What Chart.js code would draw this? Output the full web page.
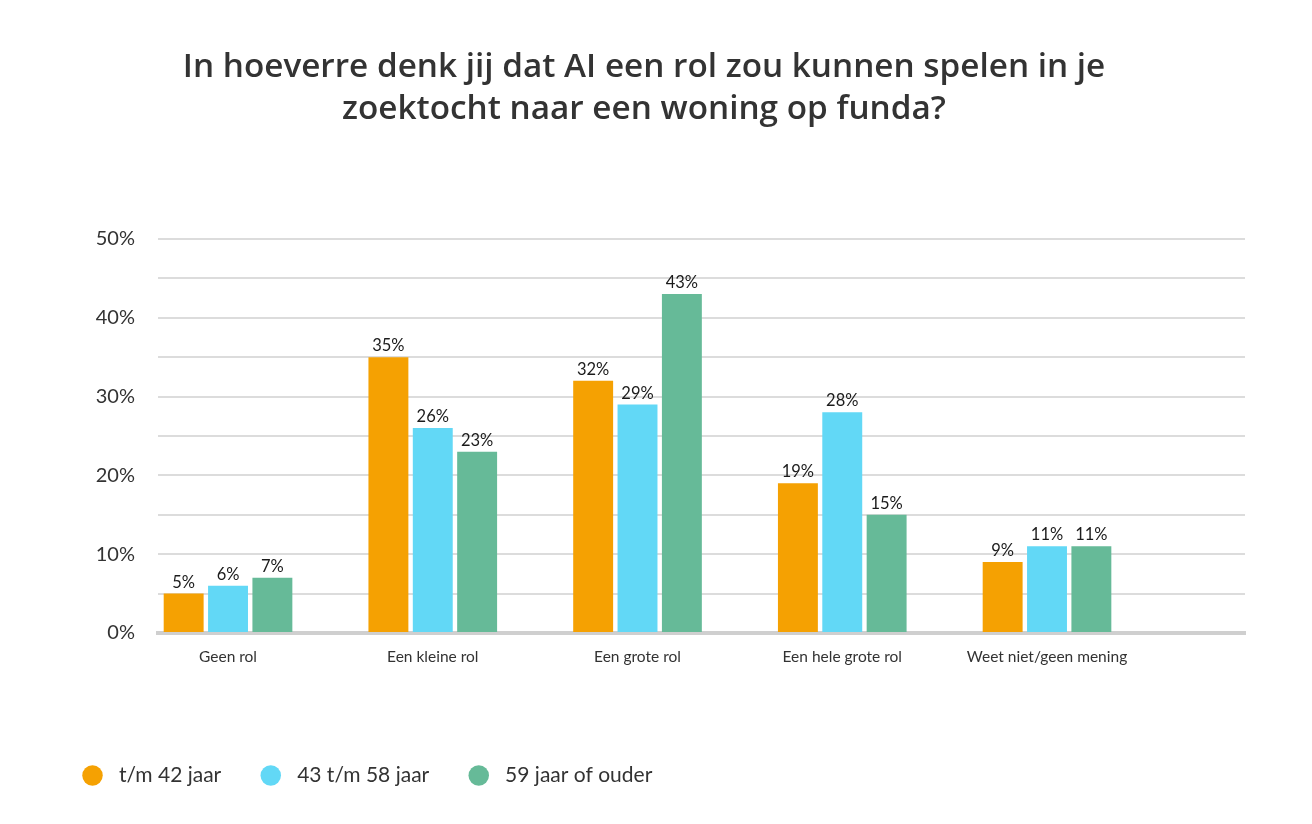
<!DOCTYPE html>
<html>
<head>
<meta charset="utf-8">
<script src="https://cdn.jsdelivr.net/npm/chart.js@4.4.0/dist/chart.umd.min.js"></script>
<style>
  html, body { margin: 0; padding: 0; background: #fff; }
  .wrap { width: 1312px; height: 824px; }
</style>
</head>
<body>
<div class="wrap"><canvas class="js-chart"></canvas></div>
<script>
const categories = ['Geen rol', 'Een kleine rol', 'Een grote rol', 'Een hele grote rol', 'Weet niet/geen mening'];
const seriesNames = ['t/m 42 jaar', '43 t/m 58 jaar', '59 jaar of ouder'];
const upTo42 = [5, 35, 32, 19, 9];
const from43to58 = [6, 26, 29, 28, 11];
const from59 = [7, 23, 43, 15, 11];
const yTickLabels = ['0%', '10%', '20%', '30%', '40%', '50%'];

const ctx = document.querySelector('.js-chart').getContext('2d');
Chart.defaults.font.family = 'Lato';
Chart.defaults.color = '#333333';

// category index -> {x, y} so the x axis can be linear (custom side margins)
const toPoints = values => values.map((v, i) => ({ x: i, y: v }));

const valueLabels = {
  id: 'valueLabels',
  afterDatasetsDraw(chart) {
    const c = chart.ctx;
    c.save();
    c.font = '16.5px Lato';
    c.fillStyle = '#1b1b1b';
    c.textAlign = 'center';
    c.textBaseline = 'bottom';
    chart.data.datasets.forEach((ds, i) => {
      chart.getDatasetMeta(i).data.forEach((bar, j) => {
        c.fillText(ds.data[j].y + '%', bar.x, bar.y - 3);
      });
    });
    c.restore();
  },
};

new Chart(ctx, {
  type: 'bar',
  data: {
    datasets: [
      { label: seriesNames[0], data: toPoints(upTo42), backgroundColor: '#F5A102' },
      { label: seriesNames[1], data: toPoints(from43to58), backgroundColor: '#62D8F6' },
      { label: seriesNames[2], data: toPoints(from59), backgroundColor: '#66BA98' },
    ],
  },
  options: {
    responsive: true,
    maintainAspectRatio: false,
    animation: false,
    categoryPercentage: 0.65,
    barPercentage: 0.9,
    layout: { padding: { left: 43, right: 67, top: 20, bottom: 28 } },
    plugins: {
      title: {
        display: true,
        text: ['In hoeverre denk jij dat AI een rol zou kunnen spelen in je', 'zoektocht naar een woning op funda?'],
        color: '#333333',
        font: { family: 'Open Sans', size: 33.3, weight: 600, lineHeight: 1.26 },
        padding: { top: 27, bottom: 108 },
      },
      legend: {
        position: 'bottom',
        align: 'start',
        labels: {
          usePointStyle: true,
          pointStyle: 'circle',
          boxHeight: 14.5,
          padding: 39,
          color: '#333333',
          font: { size: 21 },
          // leading space widens the gap between dot and text a little
          generateLabels: chart =>
            Chart.defaults.plugins.legend.labels.generateLabels(chart).map(item => ({ ...item, text: ' ' + item.text })),
        },
      },
      tooltip: { enabled: false },
    },
    scales: {
      x: {
        type: 'linear',
        offset: false,
        min: -0.342,
        max: 4.967,
        afterBuildTicks: scale => {
          scale.ticks = categories.map((_, i) => ({ value: i }));
        },
        afterFit: scale => {
          scale.height = 93;
        },
        ticks: {
          autoSkip: false,
          maxRotation: 0,
          padding: 7,
          color: '#333333',
          font: { size: 15.5 },
          callback: value => categories[value],
        },
        grid: { display: false },
        border: { color: '#cfcfcf', width: 4 },
      },
      y: {
        min: 0,
        max: 50,
        afterFit: scale => {
          scale.width = 115;
        },
        ticks: {
          stepSize: 5,
          padding: 23,
          color: '#333333',
          font: { size: 20 },
          callback: value => (value % 10 === 0 ? yTickLabels[value / 10] : ''),
        },
        grid: { color: '#dcdcdc', lineWidth: 2, drawTicks: false },
        border: { display: false },
      },
    },
  },
  plugins: [valueLabels],
});
</script>
</body>
</html>
